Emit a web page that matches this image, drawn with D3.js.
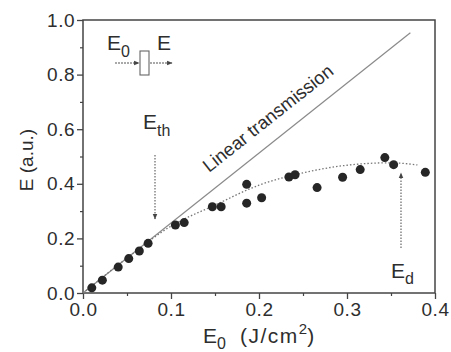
<!DOCTYPE html>
<html>
<head>
<meta charset="utf-8">
<script src="https://cdn.jsdelivr.net/npm/d3@7"></script>
<style>
  body { margin: 0; background: #fff; }
  svg { display: block; font-family: "Liberation Sans", Arial, sans-serif; }
</style>
</head>
<body>
<svg id="chart" width="451" height="352"></svg>
<script>
// measured points: E0 (J/cm2) vs E (a.u.)
let pointsX = [0.010, 0.022, 0.040, 0.052, 0.064, 0.074, 0.105, 0.115,
               0.147, 0.157, 0.186, 0.186, 0.203, 0.234, 0.241, 0.266,
               0.295, 0.315, 0.343, 0.353, 0.389];
let pointsY = [0.019, 0.047, 0.095, 0.126, 0.154, 0.182, 0.249, 0.258,
               0.316, 0.316, 0.398, 0.329, 0.349, 0.425, 0.433, 0.386,
               0.424, 0.452, 0.496, 0.470, 0.442];

// dotted guide curve
let curveX = [0.0, 0.05, 0.10, 0.15, 0.20, 0.25, 0.30, 0.35, 0.38];
let curveY = [0.0, 0.128, 0.245, 0.322, 0.395, 0.440, 0.468, 0.477, 0.469];

// linear transmission line
let linearX = [0.0, 0.372];
let linearY = [0.0, 0.953];

let xTicks = [0.0, 0.1, 0.2, 0.3, 0.4];
let xMinorTicks = [0.05, 0.15, 0.25, 0.35];
let yTicks = [0.0, 0.2, 0.4, 0.6, 0.8, 1.0];
let yMinorTicks = [0.1, 0.3, 0.5, 0.7, 0.9];

let svg = d3.select("#chart");
let ink = "#2e2e2e";

let x = d3.scaleLinear().domain([0, 0.4]).range([83, 435]);
let y = d3.scaleLinear().domain([0, 1]).range([293, 20]);
let fmt = d3.format(".1f");

// frame
svg.append("rect")
    .attr("x", x(0)).attr("y", y(1))
    .attr("width", x(0.4) - x(0)).attr("height", y(0) - y(1))
    .attr("fill", "none").attr("stroke", "#444").attr("stroke-width", 1.5);

// x axis
let xAxis = svg.append("g")
    .attr("transform", "translate(0," + y(0) + ")")
    .call(d3.axisBottom(x).tickValues(xTicks).tickFormat(fmt).tickSize(6).tickSizeOuter(0));
xAxis.select(".domain").remove();
xAxis.selectAll("line").attr("stroke", "#444").attr("stroke-width", 1.3);
xAxis.selectAll("text")
    .attr("fill", ink).attr("font-size", 19).attr("y", 10).attr("dy", "0.71em")
    .attr("letter-spacing", 0.5);

svg.append("g")
    .attr("transform", "translate(0," + y(0) + ")")
    .call(d3.axisBottom(x).tickValues(xMinorTicks).tickFormat("").tickSize(3).tickSizeOuter(0))
    .call(g => g.select(".domain").remove())
    .selectAll("line").attr("stroke", "#444").attr("stroke-width", 1.2);

// y axis
let yAxis = svg.append("g")
    .attr("transform", "translate(" + x(0) + ",0)")
    .call(d3.axisLeft(y).tickValues(yTicks).tickFormat(fmt).tickSize(6).tickSizeOuter(0));
yAxis.select(".domain").remove();
yAxis.selectAll("line").attr("stroke", "#444").attr("stroke-width", 1.3);
yAxis.selectAll("text")
    .attr("fill", ink).attr("font-size", 19).attr("x", -8)
    .attr("letter-spacing", 0.5);

svg.append("g")
    .attr("transform", "translate(" + x(0) + ",0)")
    .call(d3.axisLeft(y).tickValues(yMinorTicks).tickFormat("").tickSize(3).tickSizeOuter(0))
    .call(g => g.select(".domain").remove())
    .selectAll("line").attr("stroke", "#444").attr("stroke-width", 1.2);

// axis titles
let xTitle = svg.append("text")
    .attr("x", 203).attr("y", 343)
    .attr("fill", ink).attr("font-size", 21);
xTitle.append("tspan").text("E");
xTitle.append("tspan").attr("font-size", 16).attr("dy", 6).text("0");
xTitle.append("tspan").attr("x", 240).attr("dy", -6).attr("letter-spacing", 1.5).text("(J/cm");
xTitle.append("tspan").attr("font-size", 15).attr("dy", -9).text("2");
xTitle.append("tspan").attr("dy", 9).text(")");

svg.append("text")
    .attr("transform", "translate(33,160) rotate(-90)")
    .attr("text-anchor", "middle")
    .attr("fill", ink).attr("font-size", 19)
    .text("E (a.u.)");

// linear transmission line
let line = d3.line().x(d => x(d[0])).y(d => y(d[1]));
svg.append("path")
    .datum(d3.zip(linearX, linearY))
    .attr("d", line)
    .attr("fill", "none").attr("stroke", "#8a8a8a").attr("stroke-width", 1.2);

svg.append("text")
    .attr("transform", "translate(209,173) rotate(-38.4)")
    .attr("fill", ink).attr("font-size", 18.5)
    .text("Linear transmission");

// dotted curve
svg.append("path")
    .datum(d3.zip(curveX, curveY))
    .attr("d", line.curve(d3.curveMonotoneX))
    .attr("fill", "none").attr("stroke", "#777")
    .attr("stroke-width", 1.3).attr("stroke-dasharray", "1.5,2");

// points
svg.append("g")
    .selectAll("circle")
    .data(d3.zip(pointsX, pointsY))
    .enter().append("circle")
    .attr("cx", d => x(d[0]))
    .attr("cy", d => y(d[1]))
    .attr("r", 4.5)
    .attr("fill", "#262626");

// arrow marker
let defs = svg.append("defs");
defs.append("marker")
    .attr("id", "arr")
    .attr("viewBox", "0 0 10 10")
    .attr("refX", 9).attr("refY", 5)
    .attr("markerWidth", 5).attr("markerHeight", 5)
    .attr("orient", "auto")
    .append("path").attr("d", "M0,1 L10,5 L0,9 Z").attr("fill", "#444");

// E_th arrow
svg.append("line")
    .attr("x1", 155).attr("y1", 155).attr("x2", 155).attr("y2", 219)
    .attr("stroke", "#666").attr("stroke-width", 1.2).attr("stroke-dasharray", "1.5,1.5")
    .attr("marker-end", "url(#arr)");
let eth = svg.append("text").attr("x", 143).attr("y", 129)
    .attr("fill", ink).attr("font-size", 21);
eth.append("tspan").text("E");
eth.append("tspan").attr("font-size", 16).attr("dy", 7).text("th");

// E_d arrow
svg.append("line")
    .attr("x1", 401).attr("y1", 248).attr("x2", 401).attr("y2", 173)
    .attr("stroke", "#666").attr("stroke-width", 1.2).attr("stroke-dasharray", "1.5,1.5")
    .attr("marker-end", "url(#arr)");
let ed = svg.append("text").attr("x", 391).attr("y", 278)
    .attr("fill", ink).attr("font-size", 21);
ed.append("tspan").text("E");
ed.append("tspan").attr("font-size", 16).attr("dy", 6).text("d");

// inset schematic
let inset = svg.append("g");
let e0 = inset.append("text").attr("x", 107).attr("y", 50)
    .attr("fill", ink).attr("font-size", 21);
e0.append("tspan").text("E");
e0.append("tspan").attr("font-size", 16).attr("dy", 7).text("0");
inset.append("text").attr("x", 157).attr("y", 50)
    .attr("fill", ink).attr("font-size", 21).text("E");
inset.append("rect")
    .attr("x", 140).attr("y", 51).attr("width", 9).attr("height", 24)
    .attr("fill", "none").attr("stroke", "#666").attr("stroke-width", 1.1);
inset.append("line")
    .attr("x1", 115).attr("y1", 63).attr("x2", 139).attr("y2", 63)
    .attr("stroke", "#555").attr("stroke-width", 1.1).attr("stroke-dasharray", "2,1")
    .attr("marker-end", "url(#arr)");
inset.append("line")
    .attr("x1", 150).attr("y1", 63).attr("x2", 172).attr("y2", 63)
    .attr("stroke", "#555").attr("stroke-width", 1.1).attr("stroke-dasharray", "2,1")
    .attr("marker-end", "url(#arr)");
</script>
</body>
</html>
